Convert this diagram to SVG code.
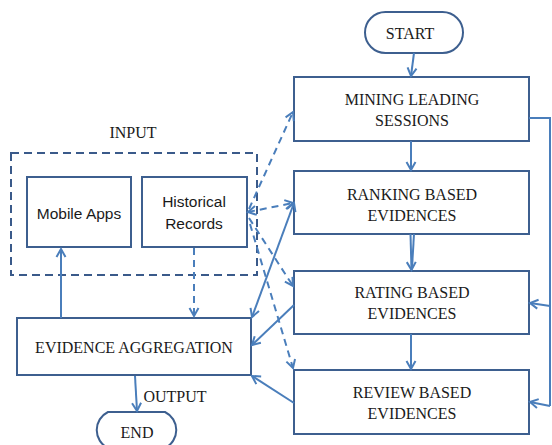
<svg xmlns="http://www.w3.org/2000/svg" width="552" height="445" viewBox="0 0 552 445">
  <defs>
    <marker id="arrow" markerUnits="userSpaceOnUse" markerWidth="12" markerHeight="12" refX="9" refY="5" orient="auto-start-reverse" viewBox="0 0 12 10">
      <path d="M1,0.5 L9,5 L1,9.5" fill="none" stroke="#4a7ebb" stroke-width="2" stroke-linejoin="miter"/>
    </marker>
    <style>
      .box { fill: #ffffff; stroke: #3d5f8f; stroke-width: 2; }
      .pill { fill: #ffffff; stroke: #3d5f8f; stroke-width: 2; }
      .group { fill: none; stroke: #3a5a8a; stroke-width: 2; stroke-dasharray: 8 5; }
      .serif { font-family: "Liberation Serif", "Times New Roman", serif; font-size: 16px; fill: #1a1a1a; text-anchor: middle; }
      .sans { font-family: "Liberation Sans", Arial, sans-serif; font-size: 15.5px; fill: #1a1a1a; text-anchor: middle; }
      .link { fill: none; stroke: #4a7ebb; stroke-width: 2; }
      .dash { stroke-dasharray: 7 5; }
    </style>
  </defs>

  <!-- input group frame and caption -->
  <g id="input-group">
    <rect class="group" x="11" y="153" width="246" height="122"/>
    <text class="serif" x="133" y="138">INPUT</text>
  </g>

  <g id="start">
    <rect class="pill" x="365" y="12" width="98" height="41" rx="20.5"/>
    <text class="serif" x="410" y="39">START</text>
  </g>

  <g id="mining">
    <rect class="box" x="294" y="77" width="235" height="64"/>
    <text class="serif" x="412" y="105">MINING LEADING</text>
    <text class="serif" x="412" y="126">SESSIONS</text>
  </g>

  <g id="ranking">
    <rect class="box" x="294" y="171" width="235" height="63"/>
    <text class="serif" x="412" y="200">RANKING BASED</text>
    <text class="serif" x="412" y="221">EVIDENCES</text>
  </g>

  <g id="rating">
    <rect class="box" x="294" y="271" width="235" height="63"/>
    <text class="serif" x="412" y="298">RATING BASED</text>
    <text class="serif" x="412" y="319">EVIDENCES</text>
  </g>

  <g id="review">
    <rect class="box" x="294" y="370" width="235" height="64"/>
    <text class="serif" x="412" y="398">REVIEW BASED</text>
    <text class="serif" x="412" y="419">EVIDENCES</text>
  </g>

  <g id="mobile-apps">
    <rect class="box" x="27" y="177" width="104" height="70"/>
    <text class="sans" x="79" y="219">Mobile Apps</text>
  </g>

  <g id="historical-records">
    <rect class="box" x="142" y="177" width="105" height="70"/>
    <text class="sans" x="194" y="207">Historical</text>
    <text class="sans" x="194" y="229">Records</text>
  </g>

  <g id="evidence-aggregation">
    <rect class="box" x="17" y="318" width="234" height="57"/>
    <text class="serif" x="134" y="353">EVIDENCE AGGREGATION</text>
  </g>

  <g id="end">
    <path class="pill" d="M108,448 A20,20 0 0 1 108,412 H165 A20,20 0 0 1 165,448"/>
    <text class="serif" x="137" y="438">END</text>
  </g>

  <text class="serif" x="175" y="402">OUTPUT</text>

  <g id="connectors">
    <!-- main flow -->
    <line class="link" x1="414" y1="53" x2="411" y2="76" marker-end="url(#arrow)"/>
    <line class="link" x1="411" y1="141" x2="411" y2="170" marker-end="url(#arrow)"/>
    <line class="link" x1="410.5" y1="234" x2="411.5" y2="270" marker-end="url(#arrow)"/>
    <line class="link" x1="414" y1="234" x2="412" y2="268"/>
    <line class="link" x1="411" y1="334" x2="411" y2="369" marker-end="url(#arrow)"/>

    <!-- side bus from mining to rating and review -->
    <path class="link" d="M529,118 H550 V406"/>
    <line class="link" x1="550" y1="306" x2="530" y2="303" marker-end="url(#arrow)"/>
    <line class="link" x1="550" y1="406" x2="530" y2="402" marker-end="url(#arrow)"/>

    <!-- evidences back to aggregation -->
    <line class="link" x1="294" y1="203" x2="252" y2="317" marker-start="url(#arrow)" marker-end="url(#arrow)"/>
    <line class="link" x1="294" y1="305" x2="252" y2="345" marker-end="url(#arrow)"/>
    <line class="link" x1="294" y1="403" x2="252" y2="376" marker-end="url(#arrow)"/>

    <!-- historical records exchanges -->
    <line class="link dash" x1="249" y1="209" x2="293" y2="112" marker-end="url(#arrow)"/>
    <line class="link dash" x1="248" y1="212" x2="293" y2="203" marker-start="url(#arrow)" marker-end="url(#arrow)"/>
    <line class="link dash" x1="249" y1="218" x2="293" y2="286" marker-end="url(#arrow)"/>
    <line class="link dash" x1="250" y1="224" x2="293" y2="368" marker-end="url(#arrow)"/>
    <line class="link dash" x1="194" y1="248" x2="194" y2="316" marker-end="url(#arrow)"/>

    <!-- aggregation to apps and output -->
    <line class="link" x1="61" y1="318" x2="61" y2="249" marker-end="url(#arrow)"/>
    <line class="link" x1="135" y1="376" x2="137" y2="411" marker-end="url(#arrow)"/>
  </g>
</svg>
